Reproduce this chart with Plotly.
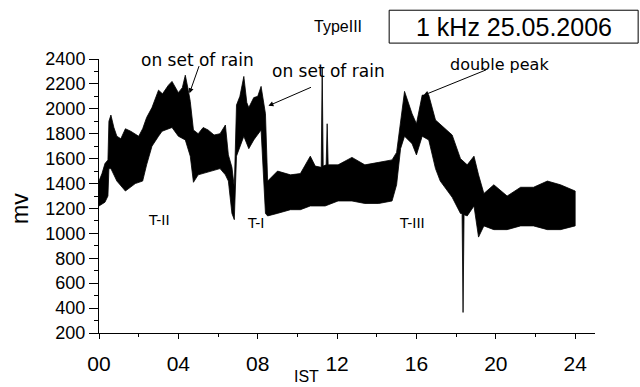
import plotly.graph_objects as go

# Upper envelope of the noisy 1 kHz signal (hours IST, mV)
upper_h = [0.0, 0.15, 0.3, 0.45, 0.5, 0.6, 0.75, 0.9, 1.1, 1.33, 1.6, 1.83, 2.0, 2.2, 2.4, 2.67,
           3.0, 3.2, 3.5, 3.68, 4.0, 4.2, 4.35, 4.5, 4.6, 4.76, 5.0, 5.25, 5.5, 5.8, 6.1, 6.37,
           6.52, 6.7, 6.82, 6.93, 7.1, 7.3, 7.45, 7.55, 7.8, 8.0, 8.17, 8.39, 8.5, 9.0, 9.65,
           10.15, 10.65, 10.9, 11.2, 11.25, 11.3, 11.45, 11.5, 11.55, 12.05, 12.75, 13.4, 14.1,
           14.77, 15.0, 15.2, 15.4, 15.78, 16.0, 16.29, 16.62, 16.96, 17.3, 17.8, 18.22, 18.56,
           18.9, 19.13, 19.4, 19.9, 20.57, 21.25, 21.9, 22.6, 23.26, 24.0]
upper_mv = [1420, 1480, 1560, 1590, 1900, 1950, 1850, 1780, 1760, 1840, 1820, 1800, 1780, 1840, 1930, 2010,
            2150, 2120, 2190, 2220, 2130, 2170, 2270, 2150, 2060, 1830, 1800, 1850, 1830, 1790, 1800, 1870,
            1630, 1530, 1370, 2030, 2100, 2260, 2050, 2010, 2090, 2100, 2180, 1960, 1420, 1500, 1470,
            1480, 1620, 1540, 1530, 2330, 1540, 1550, 1880, 1550, 1550, 1610, 1550, 1570,
            1590, 1650, 1880, 2140, 1960, 1880, 2110, 2110, 1910, 1860, 1790, 1600, 1550,
            1620, 1470, 1320, 1390, 1300, 1370, 1370, 1420, 1390, 1340]

# Lower envelope
lower_h = [0.0, 0.3, 0.45, 0.5, 0.6, 0.9, 1.33, 1.83, 2.2, 2.4, 2.67, 3.0, 3.18, 3.68, 4.0, 4.35,
           4.6, 4.76, 5.0, 5.5, 6.1, 6.37, 6.52, 6.7, 6.82, 6.93, 7.3, 7.55, 7.8, 8.17, 8.39, 8.5,
           8.98, 9.65, 10.15, 10.65, 11.4, 12.05, 12.75, 13.4, 14.1, 14.77, 15.0, 15.2, 15.4,
           15.78, 16.0, 16.29, 16.62, 16.96, 17.2, 17.8, 18.22, 18.3, 18.35, 18.4, 18.56, 18.9,
           19.13, 19.4, 19.9, 20.57, 21.25, 21.9, 22.6, 23.26, 24.0]
lower_mv = [1220, 1250, 1300, 1520, 1520, 1420, 1340, 1400, 1420, 1550, 1700, 1780, 1820, 1850, 1780, 1750,
            1620, 1410, 1470, 1490, 1520, 1470, 1420, 1160, 1110, 1620, 1780, 1680, 1750, 1830, 1160, 1140,
            1160, 1190, 1190, 1220, 1220, 1260, 1260, 1240, 1240, 1260, 1390, 1680, 1780,
            1720, 1630, 1780, 1750, 1520, 1420, 1290, 1160, 1160, 365, 1150, 1140, 1220,
            970, 1060, 1030, 1030, 1060, 1060, 1030, 1030, 1060]

x_tickvals = [0, 4, 8, 12, 16, 20, 24]
x_ticktext = ["00", "04", "08", "12", "16", "20", "24"]
y_tickvals = [200, 400, 600, 800, 1000, 1200, 1400, 1600, 1800, 2000, 2200, 2400]

FONT = "Liberation Sans, Arial, sans-serif"

fig = go.Figure()
fig.add_trace(go.Scatter(
    x=upper_h + lower_h[::-1],
    y=upper_mv + lower_mv[::-1],
    mode="lines", fill="toself", fillcolor="black",
    line=dict(color="black", width=0.8), hoverinfo="skip", showlegend=False))

C = dict(xanchor="center", yanchor="middle", showarrow=False)
ann = []
ann.append(dict(x=4.96, y=2394, xref="x", yref="y", text="on set of rain",
                font=dict(size=17, family="DejaVu Sans", color="black"), **C))
ann.append(dict(x=11.57, y=2302, xref="x", yref="y", text="on set of rain",
                font=dict(size=17, family="DejaVu Sans", color="black"), **C))
ann.append(dict(x=20.19, y=2355, xref="x", yref="y", text="double peak",
                font=dict(size=16, family="DejaVu Sans", color="black"), **C))
for (hx, hy, tx, ty) in [(4.56, 2125, 5.07, 2355), (8.54, 2024, 10.76, 2178), (16.36, 2109, 19.58, 2317)]:
    ann.append(dict(x=hx, y=hy, ax=tx, ay=ty, xref="x", yref="y", axref="x", ayref="y",
                    text="", showarrow=True, arrowhead=2, arrowsize=1, arrowwidth=1, arrowcolor="black"))
for (t, hx, my) in [("T-II", 3.0, 1110), ("T-I", 7.9, 1087), ("T-III", 15.8, 1087)]:
    ann.append(dict(x=hx, y=my, xref="x", yref="y", text=t,
                    font=dict(size=14, family="DejaVu Sans", color="black"), **C))
ann.append(dict(x=0.837, y=1.116, xref="paper", yref="paper", text="1 kHz 25.05.2006",
                font=dict(size=25, family=FONT, color="black"), **C))
ann.append(dict(x=0.482, y=1.118, xref="paper", yref="paper", text="TypeIII",
                font=dict(size=16, family=FONT, color="black"), **C))
ann.append(dict(x=0.418, y=-0.158, xref="paper", yref="paper", text="IST",
                font=dict(size=16, family=FONT, color="black"), **C))
ann.append(dict(x=-0.158, y=0.455, xref="paper", yref="paper", text="mv", textangle=-90,
                font=dict(size=23, family=FONT, color="black"), **C))

fig.update_layout(
    width=640, height=387,
    margin=dict(l=99, r=45, t=59, b=42),
    paper_bgcolor="white", plot_bgcolor="white",
    annotations=ann,
    shapes=[dict(type="rect", xref="paper", yref="paper", x0=0.585, x1=1.087, y0=1.058, y1=1.178,
                 line=dict(color="black", width=1))],
    showlegend=False,
)
fig.update_xaxes(range=[0, 25], showgrid=False, zeroline=False, showline=True, linecolor="black", linewidth=1,
                 tickmode="array", tickvals=x_tickvals, ticktext=x_ticktext, ticks="outside", ticklen=5,
                 tickcolor="black", tickfont=dict(size=21, family=FONT, color="black"), ticklabelstandoff=7,
                 minor=dict(dtick=2, tick0=0, ticks="outside", ticklen=3, tickcolor="black"))
fig.update_yaxes(range=[200, 2400], showgrid=False, zeroline=False, showline=True, linecolor="black", linewidth=1,
                 tickmode="array", tickvals=y_tickvals, ticks="outside", ticklen=9,
                 tickcolor="black", tickfont=dict(size=18, family=FONT, color="black"),
                 minor=dict(dtick=100, tick0=0, ticks="outside", ticklen=4, tickcolor="black"))

fig.write_html("out.html", config={"displayModeBar": False},
               post_script="document.body.style.margin='0';")
